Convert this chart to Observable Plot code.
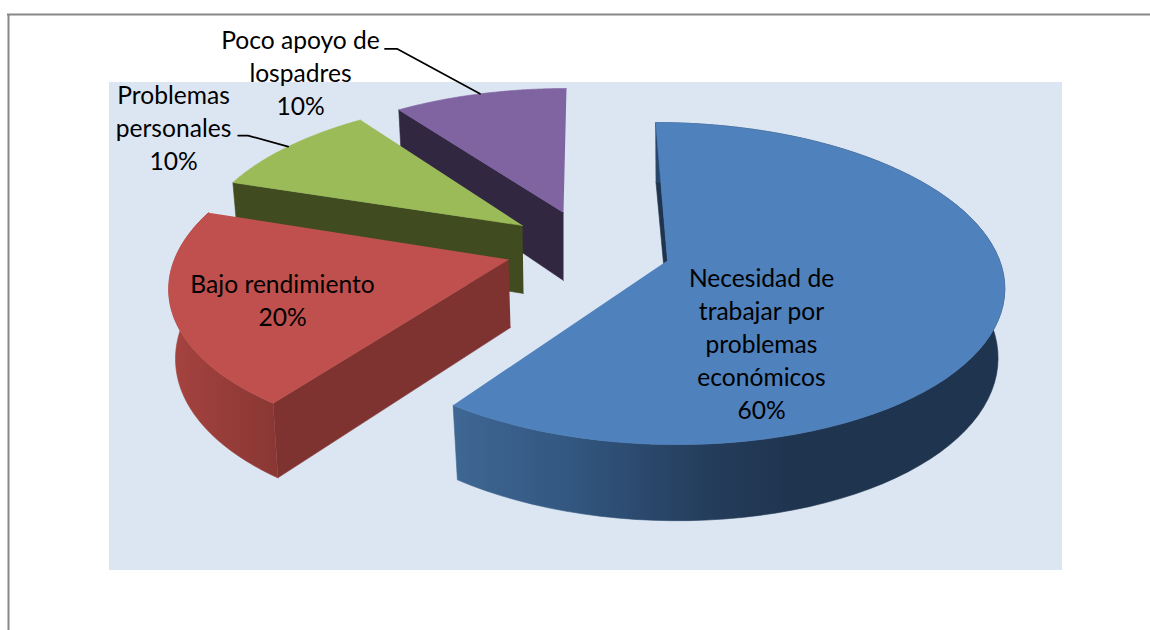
<!DOCTYPE html>
<html lang="es">
<head>
<meta charset="utf-8">
<script src="https://cdn.jsdelivr.net/npm/d3@7"></script>
<script src="https://cdn.jsdelivr.net/npm/@observablehq/plot@0.6"></script>
<style>
html,body{margin:0;padding:0;background:#fff;overflow:hidden}
svg{display:block}
</style>
</head>
<body>
<div id="chart"></div>
<script>
// Data
const categories = ["Necesidad de\ntrabajar por\nproblemas\neconómicos", "Bajo rendimiento", "Problemas\npersonales", "Poco apoyo de\nlospadres"];
const shares = [60, 20, 10, 10];

// Layout of each exploded slice (apex, radii, shear), label and leader placement
const sliceLayout = [
  {cx: 667, cy: 260, rx: 335, ry: 158, b: 10.5, rimDx: -2.5, rimDy: 1, apexDx: 2, top: "#4f81bd", wall: "#1f344e", side: "url(#blueSide)", label: [94, 82]},
  {cx: 508, cy: 259, rx: 334, ry: 158, b: -16, rimDx: 0, rimDy: 0, apexDx: 2, top: "#c0504d", wall: "#7f3331", side: "url(#redSide)", label: [-226, 39]},
  {cx: 522, cy: 225, rx: 321, ry: 145, b: -11, rimDx: 0, rimDy: 0, apexDx: 1, top: "#9bbb59", wall: "#404c20", side: null, label: [-349, -99], leader: [[-40, -11], [-50, -11]]},
  {cx: 563, cy: 212, rx: 316, ry: 141, b: -3.4, rimDx: 0, rimDy: 0, apexDx: 0, top: "#8064a2", wall: "#322741", side: null, label: [-263, -141], leader: [[-83, -45], [-95, -45]]}
];
const perspective = 0.137, depth = 68, depthGrowth = 0.12, bottomShrink = 0.02;

const pie = d3.pie().sort(null).value(d => d)(shares);

function topPoint(s, a) {
  const X = Math.sin(a), Y = -Math.cos(a), w = 1 - perspective * Y;
  return [s.cx + s.rimDx + (s.rx * X + s.b * Y) / w, s.cy + s.rimDy + s.ry * Y / w];
}
function bottomPoint(s, a) {
  const [x, y] = topPoint(s, a), Y = -Math.cos(a);
  return [x + (s.cx - x) * bottomShrink, y + depth * (1 + depthGrowth * Y)];
}
const arc = (f, s, a0, a1) => d3.range(81).map(i => f(s, a0 + (a1 - a0) * i / 80));

const faces = [];
const labels = [];
const leaders = [];
pie.forEach((p, i) => {
  const s = sliceLayout[i], a0 = p.startAngle, a1 = p.endAngle;
  const apexTop = [s.cx, s.cy], apexBottom = [s.cx + s.apexDx, s.cy + depth];
  // radial cut facing the viewer
  faces.push({order: 3 - i, fill: s.wall, pts: [apexTop, topPoint(s, a0), bottomPoint(s, a0), apexBottom]});
  // outer rim
  if (s.side) faces.push({order: 3 - i, fill: s.side, pts: [...arc(topPoint, s, a0, a1), ...arc(bottomPoint, s, a0, a1).reverse()]});
  // top face
  faces.push({order: 3 - i, fill: s.top, pts: [apexTop, ...arc(topPoint, s, a0, a1)]});
  labels.push({x: s.cx + s.label[0], y: s.cy + s.label[1], text: `${categories[i]}\n${shares[i]}%`});
  if (s.leader) {
    const rim = topPoint(s, (a0 + a1) / 2);
    leaders.push([rim, ...s.leader.map(([dx, dy]) => [rim[0] + dx, rim[1] + dy])]);
  }
});
faces.sort((a, b) => a.order - b.order);

const panel = [{x1: 109, x2: 1062, y1: 82, y2: 570}];
const frameTop = [{y: 14, x1: 7, x2: 1150}];
const frameLeft = [{x: 8, y1: 14, y2: 630}];

const defs = () => {
  const d = d3.create("svg:defs");
  const grad = (id, stops) => {
    const g = d.append("linearGradient").attr("id", id).attr("x1", 0).attr("x2", 1).attr("y1", 0).attr("y2", 0);
    stops.forEach(([o, c]) => g.append("stop").attr("offset", o).attr("stop-color", c));
  };
  grad("blueSide", [[0, "#3f6793"], [0.2, "#335882"], [0.45, "#253e5d"], [0.62, "#1f344e"], [1, "#1f344e"]]);
  grad("redSide", [[0, "#a6433f"], [1, "#893734"]]);
  return d.node();
};

const chart = Plot.plot({
  width: 1150,
  height: 630,
  margin: 0,
  x: {domain: [0, 1150], range: [0, 1150], axis: null},
  y: {domain: [0, 630], range: [0, 630], axis: null},
  style: {background: "#fff", fontFamily: "Lato, sans-serif"},
  marks: [
    defs,
    Plot.rect(panel, {x1: "x1", x2: "x2", y1: "y1", y2: "y2", fill: "#dce6f2"}),
    Plot.ruleY(frameTop, {y: "y", x1: "x1", x2: "x2", stroke: "#888", strokeWidth: 2}),
    Plot.ruleX(frameLeft, {x: "x", y1: "y1", y2: "y2", stroke: "#888", strokeWidth: 2}),
    ...faces.map(f => Plot.line(f.pts, {x: d => d[0], y: d => d[1], fill: f.fill, stroke: f.fill, strokeWidth: 0.6, strokeLinejoin: "round"})),
    ...leaders.map(l => Plot.line(l, {x: d => d[0], y: d => d[1], stroke: "#000", strokeWidth: 1.7})),
    Plot.text(labels, {x: "x", y: "y", text: "text", fontSize: 24.6, lineHeight: 1.34, fill: "#000", textAnchor: "middle", lineAnchor: "middle"})
  ]
});
document.getElementById("chart").appendChild(chart);
</script>
</body>
</html>
